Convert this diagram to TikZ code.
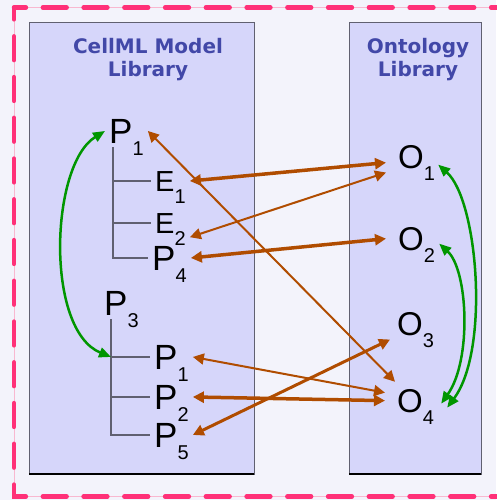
\documentclass[tikz,border=0pt]{standalone}
\usepackage{fontspec}
\setmainfont{Liberation Sans}
\newfontfamily\headfont{DejaVu Sans}
\usetikzlibrary{arrows.meta}

\definecolor{pagebg}{RGB}{243,243,251}
\definecolor{libfill}{RGB}{214,214,250}
\definecolor{libline}{RGB}{96,96,112}
\definecolor{headblue}{RGB}{66,72,168}
\definecolor{maprust}{RGB}{176,76,0}
\definecolor{samegreen}{RGB}{0,150,0}
\definecolor{framepink}{RGB}{255,48,120}
\definecolor{framelight}{RGB}{248,184,208}

\newcommand{\lbl}[2]{#1\smash{\lower12pt\hbox{\fontsize{20}{20}\selectfont #2}}}

\begin{document}
\begin{tikzpicture}[x=1pt,y=-1pt,>={Triangle[length=11pt,width=11pt]}]
        \tikzstyle{every node}=[inner sep=4pt, anchor=base west, text=black]
        \tikzstyle{pterm}=[font=\fontsize{35}{35}\selectfont]
        \tikzstyle{eterm}=[font=\fontsize{29}{29}\selectfont]
        \tikzstyle{oterm}=[inner xsep=12pt, inner ysep=4pt, font=\fontsize{33}{33}\selectfont]
        \tikzstyle{head}=[anchor=north, inner sep=0pt, align=center, text=headblue, font={\headfont\bfseries\fontsize{20}{23}\selectfont}]
        \tikzstyle{tree}=[libline, line width=1.2pt]
        \tikzstyle{same}=[samegreen, line width=2.5pt, <->, >={Triangle[length=12pt,width=10pt]}]

        \useasboundingbox (0,0) rectangle (496,500);
        \fill[pagebg] (0,0) rectangle (496,500);
        \draw[framelight, line width=1pt] (14,7.5) rectangle (503,496.5);
        \draw[framepink, line width=4.5pt, line cap=round, dash pattern=on 23.75pt off 17pt, dash phase=11.9pt] (14,7.5) rectangle (503,496.5);

        % the two libraries
        \draw[libline, fill=libfill, line width=1pt] (29,23) rectangle (254,474);
        \draw[libline, fill=libfill, line width=1pt] (349,23) rectangle (481,474);
        \draw[black, line width=1.5pt] (29,474) -- (254,474);
        \draw[black, line width=1.5pt] (349,474) -- (481,474);

        \node[head] (cellml) at (148,38) {CellML Model\\Library};
        \node[head] (onto)   at (418,38) {Ontology\\Library};

        \node[pterm] (P1a) at (105,143) {\lbl{P}{1}};
        \node[eterm] (E1)  at (151,191) {\lbl{E}{1}};
        \node[eterm] (E2)  at (151,233) {\lbl{E}{2}};
        \node[pterm] (P4)  at (148,270) {\lbl{P}{4}};

        \node[pterm] (P3)  at (100,315) {\lbl{P}{3}};
        \node[pterm] (P1b) at (150,369) {\lbl{P}{1}};
        \node[pterm] (P2)  at (150,409) {\lbl{P}{2}};
        \node[pterm] (P5)  at (150,447) {\lbl{P}{5}};

        \node[oterm] (O1) at (386,168) {\lbl{O}{1}};
        \node[oterm] (O2) at (386,250) {\lbl{O}{2}};
        \node[oterm] (O3) at (385,335) {\lbl{O}{3}};
        \node[oterm] (O4) at (385,412) {\lbl{O}{4}};

        % model trees
        \draw[tree] (P1a.south west) ++(8,0) coordinate (t1) |- (P4.west);
        \draw[tree] (t1 |- E1.west) -- (E1.west);
        \draw[tree] (t1 |- E2.west) -- (E2.west);

        \draw[tree] (P3.south west) ++(11,0) coordinate (t2) |- (P5.west);
        \draw[tree] (t2 |- P1b.west) -- (P1b.west);
        \draw[tree] (t2 |- P2.west) -- (P2.west);

        % same-as links
        \draw[same] (P1a.west) .. controls (50,165) and (45,330) .. (t2 |- P1b.west);
        \draw[same] ([xshift=-9pt,yshift=-8pt]O1.east) .. controls (478,200) and (490,350) .. ([xshift=1pt,yshift=-7pt]O4.east);
        \draw[same] ([xshift=-8pt,yshift=-5pt]O2.east) .. controls (468,270) and (472,360) .. ([xshift=-5pt,yshift=-3pt]O4.east);

        % annotations
        \tikzstyle{link}=[maprust, line width=2pt, <->]
        \draw[link] (P1a.east) -- ([xshift=10pt,yshift=3pt]O4.north west);
        \draw[link] (E2.south east) -- (O1.south west);
        \draw[link] (P1b.east) -- ([yshift=8pt]O4.west);

        \tikzstyle{link}=[maprust, line width=3pt, <->]
        \draw[link] (P5.east) -- ([xshift=5pt]O3.south west);

        \tikzstyle{link}=[maprust, line width=3.5pt, <->]
        \draw[link] (E1.east) -- ([yshift=-6pt]O1.west);
        \draw[link] (P4.east) -- (O2.west);
        \draw[link] (P2.east) -- (O4.west);
\end{tikzpicture}
\end{document}
